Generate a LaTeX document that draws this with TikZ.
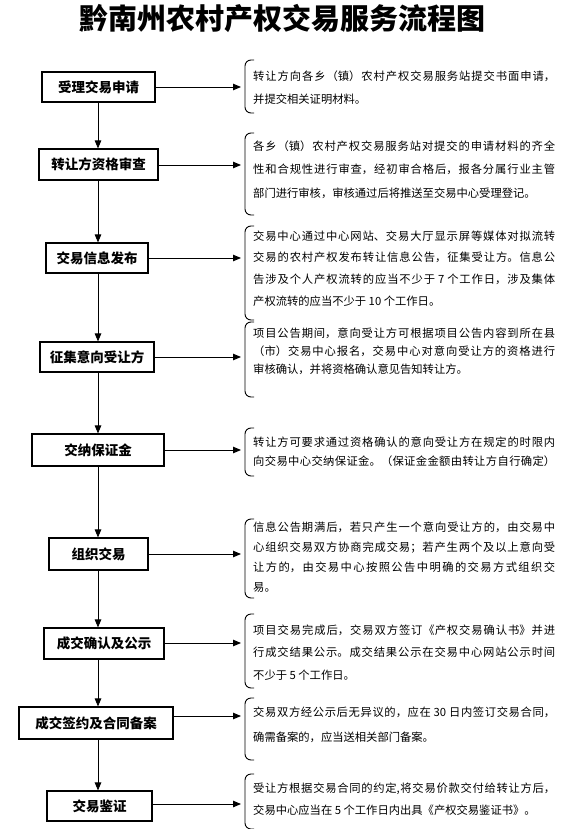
\documentclass[tikz,border=0pt]{standalone}
\usepackage{fontspec}
\setmainfont{Noto Sans CJK SC}
\usetikzlibrary{arrows.meta}
\XeTeXlinebreaklocale "zh"
\XeTeXlinebreakskip=0pt plus 3pt
\tikzset{
  stepbox/.style={draw, line width=1.1pt, inner sep=0pt, align=center,
    font=\fontsize{13.5}{16}\selectfont\bfseries},
  desc/.style={anchor=north west, inner sep=0pt, text width=302pt, align=justify},
  arr/.style={line width=0.9pt, -{Triangle[length=8pt,width=6.5pt]}},
  brk/.style={line width=0.9pt, rounded corners=6pt},
}
\newcommand{\dsz}[1]{\fontsize{11.3}{#1}\selectfont}
\begin{document}
\begin{tikzpicture}[x=1pt,y=-1pt]
\useasboundingbox (0,0) rectangle (583,829);
\node[font=\fontsize{29}{32}\selectfont\bfseries] (title) at (282,18) {黔南州农村产权交易服务流程图};
\coordinate (sp) at (98,0);
% boxes
\node[stepbox, minimum width=113pt, minimum height=30pt] (b1) at (98.5,87) {受理交易申请};
\node[stepbox, minimum width=119pt, minimum height=31pt] (b2) at (98.5,164.5) {转让方资格审查};
\node[stepbox, minimum width=102pt, minimum height=30pt] (b3) at (97,258) {交易信息发布};
\node[stepbox, minimum width=114pt, minimum height=30pt] (b4) at (97,357) {征集意向受让方};
\node[stepbox, minimum width=132pt, minimum height=32pt] (b5) at (98,450) {交纳保证金};
\node[stepbox, minimum width=99pt, minimum height=32pt] (b6) at (98.5,554) {组织交易};
\node[stepbox, minimum width=120pt, minimum height=31pt] (b7) at (104,643.5) {成交确认及公示};
\node[stepbox, minimum width=154pt, minimum height=32pt] (b8) at (96,723) {成交签约及合同备案};
\node[stepbox, minimum width=105pt, minimum height=30pt] (b9) at (99.5,806) {交易鉴证};
% vertical arrows
\foreach \a/\b in {b1/b2,b2/b3,b3/b4,b4/b5,b5/b6,b6/b7,b7/b8,b8/b9}
  \draw[arr] (\a.south -| sp) -- (\b.north -| sp);
% arrow targets
\coordinate (k1) at (241,87);
\coordinate (k2) at (241,165);
\coordinate (k3) at (241,258);
\coordinate (k4) at (241,357);
\coordinate (k5) at (241,450);
\coordinate (k6) at (241,554);
\coordinate (k7) at (241,643);
\coordinate (k8) at (241,716);
\coordinate (k9) at (241,804);
\foreach \i in {1,...,9}
  \draw[arr] (b\i.east |- k\i) -- (k\i);
% brackets
\draw[brk] (254,60) -- (245,60) -- (245,113) -- (254,113);
\draw[brk] (254,133) -- (245,133) -- (245,215) -- (254,215);
\draw[brk] (254,226) -- (245,226) -- (245,320) -- (254,320);
\draw[brk] (254,322) -- (245,322) -- (245,397) -- (254,397);
\draw[brk] (254,428) -- (245,428) -- (245,476) -- (254,476);
\draw[brk] (254,519) -- (245,519) -- (245,598) -- (254,598);
\draw[brk] (254,614) -- (245,614) -- (245,688) -- (254,688);
\draw[brk] (254,698) -- (245,698) -- (245,760) -- (254,760);
\draw[brk] (254,774) -- (245,774) -- (245,829) -- (254,829);
% descriptions
\node[desc, font=\dsz{23}] (t1) at (253,70.5) {转让方向各乡（镇）农村产权交易服务站提交书面申请，\linebreak 并提交相关证明材料。};
\node[desc, font=\dsz{23.5}] (t2) at (253,140.5) {各乡（镇）农村产权交易服务站对提交的申请材料的齐全\linebreak 性和合规性进行审查，经初审合格后，报各分属行业主管\linebreak 部门进行审核，审核通过后将推送至交易中心受理登记。};
\node[desc, font=\dsz{21.7}] (t3) at (253,230.5) {交易中心通过中心网站、交易大厅显示屏等媒体对拟流转\linebreak 交易的农村产权发布转让信息公告，征集受让方。信息公\linebreak 告涉及个人产权流转的应当不少于 7 个工作日，涉及集体\linebreak 产权流转的应当不少于 10 个工作日。};
\node[desc, font=\dsz{18}] (t4) at (253,327.5) {项目公告期间，意向受让方可根据项目公告内容到所在县\linebreak （市）交易中心报名，交易中心对意向受让方的资格进行\linebreak 审核确认，并将资格确认意见告知转让方。};
\node[desc, font=\dsz{19}] (t5) at (253,436.5) {转让方可要求通过资格确认的意向受让方在规定的时限内\linebreak 向交易中心交纳保证金。（保证金金额由转让方自行确定）\linebreak\mbox{}};
\node[desc, font=\dsz{20}] (t6) at (253,521.5) {信息公告期满后，若只产生一个意向受让方的，由交易中\linebreak 心组织交易双方协商完成交易；若产生两个及以上意向受\linebreak 让方的，由交易中心按照公告中明确的交易方式组织交\linebreak 易。};
\node[desc, font=\dsz{22.5}] (t7) at (253,624.5) {项目交易完成后，交易双方签订《产权交易确认书》并进\linebreak 行成交结果公示。成交结果公示在交易中心网站公示时间\linebreak 不少于 5 个工作日。};
\node[desc, font=\dsz{25}] (t8) at (253,706.5) {交易双方经公示后无异议的，应在 30 日内签订交易合同，\linebreak 确需备案的，应当送相关部门备案。};
\node[desc, font=\dsz{22}] (t9) at (253,782.5) {受让方根据交易合同的约定,将交易价款交付给转让方后，\linebreak 交易中心应当在 5 个工作日内出具《产权交易鉴证书》。};
\end{tikzpicture}
\end{document}
